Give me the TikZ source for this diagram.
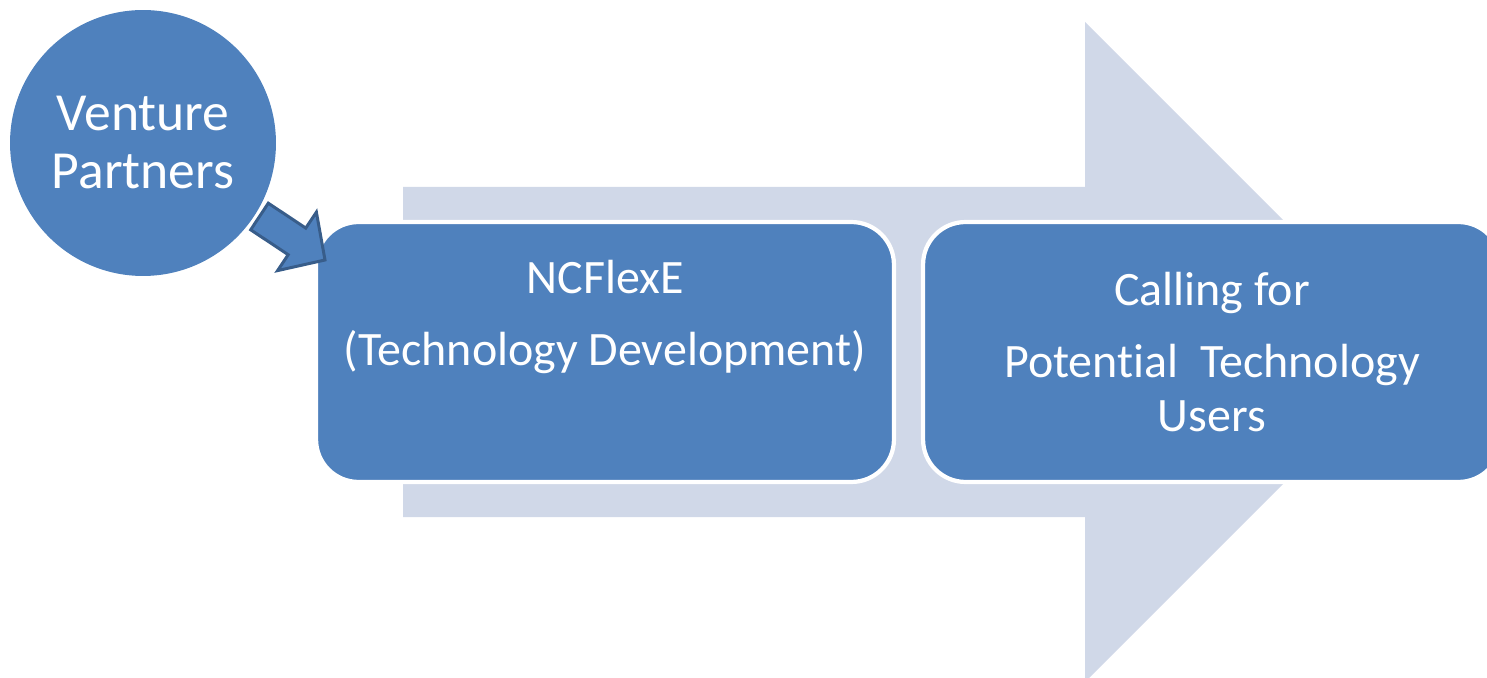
\documentclass[tikz,border=0pt]{standalone}
\usepackage{fontspec}
\setmainfont{Carlito}[Ligatures=NoCommon]

\definecolor{stageblue}{HTML}{4F81BD}
\definecolor{flowgray}{HTML}{D0D8E8}
\definecolor{linkblue}{HTML}{385D8A}

\tikzset{
  stagebox/.style={draw=white, line width=2.4pt, fill=stageblue, rounded corners=0.85cm,
    minimum width=11.56cm, minimum height=5.2cm, text=white, align=center,
    font=\fontsize{27.3}{31}\selectfont},
  partnerdot/.style={circle, fill=stageblue, minimum size=5.32cm, inner sep=0pt,
    text=white, align=center, font=\fontsize{30.5}{33}\selectfont},
  linkarrow/.style={draw=linkblue, fill=stageblue, line width=1.7pt, miter limit=10}
}

\begin{document}
\begin{tikzpicture}[x=0.02cm, y=-0.02cm]
	\useasboundingbox (0,0) rectangle (1487,678);
	\clip (0,0) rectangle (1487,678);
	% big process arrow behind the stages
	\fill[flowgray] (403,187) -- (1085,187) -- (1085,22) -- (1415,352) -- (1085,682) -- (1085,517) -- (403,517) -- cycle;
	\node[stagebox] (ncflexe) at (605,352) {NCFlexE\\[10pt](Technology Development)\\[14pt]\mbox{}};
	\node[stagebox] (users) at (1212,352) {Calling for\\[10pt]Potential~~Technology\\Users};
	\node[partnerdot] (partners) at (143,143) {Venture\\Partners};
	% block arrow from partners into the first stage
	\draw[linkarrow] (268.3,203.2) -- (305.8,228.1) -- (316.4,212.2) -- (325,260)
	  -- (277.6,270.6) -- (288.2,254.7) -- (250.7,229.8) -- cycle;
\end{tikzpicture}
\end{document}
